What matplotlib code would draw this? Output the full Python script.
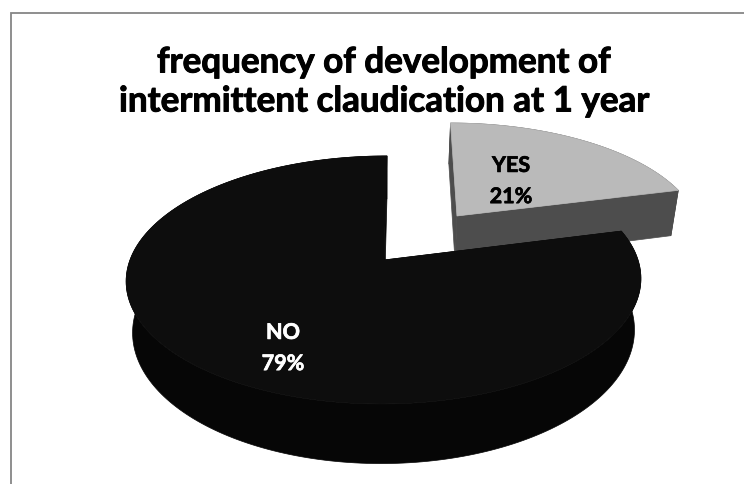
import numpy as np
import matplotlib
matplotlib.use("Agg")
import matplotlib.pyplot as plt
import matplotlib.patheffects as pe
from matplotlib.patches import Polygon, Rectangle

title = "frequency of development of\nintermittent claudication at 1 year"
categories = ["YES", "NO"]
values = [21, 79]
explode = [0.49, 0.0]
top_colors = ["#bababa", "#0d0d0d"]
side_colors = ["#4d4d4d", "#060606"]
text_colors = ["#000000", "#ffffff"]
label_pos = [(511, 181), (283, 348)]

W, H = 744, 484
CX, CY, R, RY, K, D, SHR, SHEAR = 384, 260, 254, 120.8, 0.161, 50, 0.975, 3

plt.rcParams['font.family'] = ['Lato', 'DejaVu Sans']
fig = plt.figure(figsize=(W/100, H/100), dpi=100)
ax = fig.add_axes([0, 0, 1, 1])
ax.set_xlim(0, W); ax.set_ylim(H, 0); ax.axis('off')
ax.add_patch(Rectangle((10.5, 12.5), 760, 500, fc='white', ec='#868686', lw=1.3, clip_on=True))


def project(u, v):
    s = 1/(1+K*v)
    return CX + R*u*s + SHEAR*v, CY - RY*v*s, s


def slice_outline(frac0, frac1, e):
    mid = (frac0+frac1)/2*2*np.pi
    ou, ov = e*np.sin(mid), e*np.cos(mid)
    t = np.linspace(frac0, frac1, 240)*2*np.pi
    return ou, ov, ou+np.sin(t), ov+np.cos(t)


def draw(frac0, frac1, e, top, side, z):
    ou, ov, u, v = slice_outline(frac0, frac1, e)
    x, y, s = project(u, v)
    ax_, ay_, as_ = project(ou, ov)
    bx = CX+(x-CX)*SHR
    by = y+D*s
    abx = CX+(ax_-CX)*SHR
    aby = ay_+D*as_
    ax.add_patch(Polygon(np.c_[np.r_[x, bx[::-1]], np.r_[y, by[::-1]]], fc=side, ec=side, lw=0.5, zorder=z))
    for i in (0, -1):
        ax.add_patch(Polygon([(ax_, ay_), (x[i], y[i]), (bx[i], by[i]), (abx, aby)], fc=side, ec=side, lw=0.5, zorder=z))
    ax.add_patch(Polygon(np.r_[[[ax_, ay_]], np.c_[x, y]], fc=top, ec=top, lw=0.5, zorder=z+0.5))


fr = np.array(values)/sum(values)
edges = np.r_[0, np.cumsum(fr)]
for i in range(len(values)):
    draw(edges[i], edges[i+1], explode[i], top_colors[i], side_colors[i], 2+2*i)
    t = ax.text(*label_pos[i], f"{categories[i]}\n{values[i]}%", color=text_colors[i], ha='center', va='center',
                fontsize=15.5, fontweight='bold', linespacing=1.6, zorder=10)
    t.set_path_effects([pe.withStroke(linewidth=0.5, foreground=text_colors[i])])

tt = ax.text(384, 82, title, ha='center', va='center', fontsize=25.2, fontweight='bold', linespacing=1.27, color='black', zorder=10)
tt.set_path_effects([pe.withStroke(linewidth=0.7, foreground='black')])
fig.savefig('out.png', dpi=100)
